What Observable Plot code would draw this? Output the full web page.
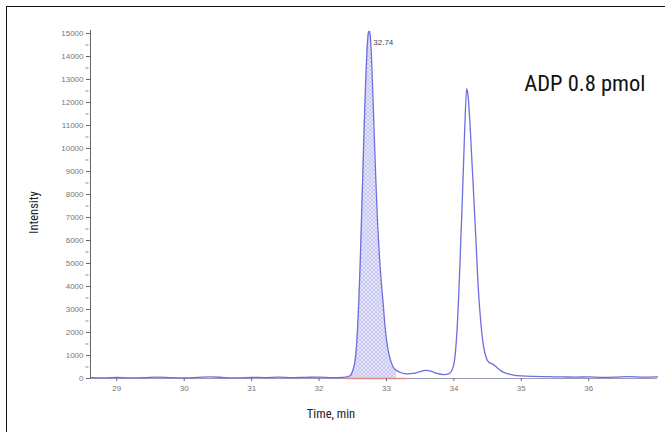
<!DOCTYPE html>
<html>
<head>
<meta charset="utf-8">
<script src="https://cdn.jsdelivr.net/npm/d3@7"></script>
<script src="https://cdn.jsdelivr.net/npm/@observablehq/plot@0.6"></script>
<style>
  html, body { margin: 0; padding: 0; background: #fff; }
  #wrap { position: relative; width: 665px; height: 432px; overflow: hidden; }
  #border { position: absolute; left: 6px; top: 6px; right: -2px; bottom: -2px; border-left: 1px solid #111; border-top: 1px solid #111; pointer-events: none; }
</style>
</head>
<body>
<div id="wrap"><div id="border"></div></div>
<script>
// Chromatogram: retention time (min) and intensity
const time = [28.61, 28.8, 29.0, 29.2, 29.4, 29.6, 29.8, 30.0, 30.2, 30.4, 30.6, 30.8, 31.0, 31.2, 31.4, 31.6, 31.8, 32.0, 32.2, 32.35, 32.43,
  32.47, 32.50, 32.53, 32.55, 32.57, 32.59, 32.61, 32.635, 32.655, 32.67, 32.69, 32.71, 32.73, 32.745, 32.76, 32.78, 32.80, 32.82, 32.84, 32.86, 32.89, 32.92, 32.95, 32.98, 33.02, 33.06, 33.10, 33.15,
  33.22, 33.3, 33.4, 33.5, 33.58, 33.66, 33.75, 33.85, 33.92, 33.97, 34.01, 34.04, 34.07, 34.10, 34.13, 34.16, 34.19, 34.21, 34.24, 34.27, 34.30, 34.33, 34.36, 34.40, 34.44, 34.48, 34.52, 34.56, 34.60, 34.65, 34.70, 34.78, 34.88,
  35.0, 35.2, 35.4, 35.6, 35.8, 36.0, 36.2, 36.4, 36.6, 36.8, 37.02];
const intensity = [40, 30, 50, 30, 40, 60, 40, 30, 50, 70, 40, 30, 50, 40, 60, 40, 50, 60, 40, 50, 80,
  150, 350, 700, 1200, 2100, 3400, 5000, 7500, 9500, 11000, 12800, 14200, 15000, 15100, 14900, 13800, 12200, 10500, 8800, 7300, 5600, 4300, 3300, 2200, 1300, 800, 500, 350,
  250, 200, 220, 300, 350, 320, 220, 170, 200, 350, 800, 1800, 3500, 5800, 8200, 10800, 12600, 12300, 11000, 9300, 7600, 5800, 4000, 2400, 1400, 900, 700, 650, 580, 450, 330, 220, 150,
  110, 90, 80, 70, 60, 70, 50, 60, 80, 60, 70];

// Integrated peak window and annotation
const peakWindow = [32.43, 33.15];
const baselineWindow = [32.40, 33.30];
const peakLabelTime = [32.745];
const peakLabelIntensity = [15100];
const peakLabelText = ["32.74"];

// Axis ticks and labels
const yTicks = d3.range(0, 15001, 1000);
const yMinorTicks = d3.range(500, 15000, 1000);
const xTicks = [29, 30, 31, 32, 33, 34, 35, 36];
const xLabel = "Time, min";
const yLabel = "Intensity";
const title = "ADP 0.8 pmol";

const data = time.map((t, i) => ({t, v: intensity[i]}));
const peakData = data.filter(d => d.t >= peakWindow[0] && d.t <= peakWindow[1]);

const condensed = "'Liberation Sans Narrow', 'Roboto Condensed', 'Arial Narrow', Roboto, sans-serif";

const chart = Plot.plot({
  width: 665,
  height: 432,
  marginLeft: 90,
  marginRight: 8,
  marginTop: 30,
  marginBottom: 54,
  x: {domain: [28.61, 37.02]},
  y: {domain: [0, 15130]},
  style: {fontFamily: "'Liberation Sans', Arial, sans-serif", background: "transparent", overflow: "visible"},
  marks: [
    Plot.areaY(peakData, {x: "t", y: "v", fill: "url(#hatch)", curve: "monotone-x"}),
    Plot.ruleY([0], {stroke: "#9a9ab0", strokeWidth: 1.2}),
    Plot.ruleY([0], {x1: baselineWindow[0], x2: baselineWindow[1], stroke: "#e08a8a", strokeWidth: 1.6}),
    Plot.lineY(data, {x: "t", y: "v", stroke: "#6e6ee0", strokeWidth: 1.3, curve: "monotone-x"}),
    Plot.ruleX([28.61], {stroke: "#666", strokeWidth: 1}),
    Plot.axisY({ticks: yTicks, tickSize: 4, tickFormat: d3.format("d"), fontSize: 8, color: "#777", stroke: "#666", label: null, tickPadding: 3}),
    Plot.tickY(yMinorTicks, {y: d => d, frameAnchor: "left", stroke: "#888", dx: -1.5, inset: 0}),
    Plot.axisX({ticks: xTicks, tickSize: 3, fontSize: 8, color: "#777", stroke: "#666", label: null, tickPadding: 4}),
    Plot.text(peakLabelText, {x: (d, i) => peakLabelTime[i], y: (d, i) => peakLabelIntensity[i], text: d => d, dx: 4, dy: 11, textAnchor: "start", fontSize: 8, fill: "#444"}),
    Plot.text([yLabel], {frameAnchor: "left", text: d => d, dx: -57, dy: 8, rotate: -90, textAnchor: "middle", fontSize: 12.5, fill: "#222", fontFamily: condensed}),
    Plot.text([xLabel], {frameAnchor: "bottom", text: d => d, dx: -43, dy: 39, fontSize: 12.5, fill: "#222", fontFamily: condensed}),
    Plot.text([title], {frameAnchor: "top-right", text: d => d, dx: -12, dy: 45, textAnchor: "end", fontSize: 22.5, fill: "#111", fontFamily: condensed})
  ]
});

// hatch pattern for the integrated peak area
const svg = d3.select(chart);
const defs = svg.insert("defs", ":first-child");
const pat = defs.append("pattern").attr("id", "hatch").attr("patternUnits", "userSpaceOnUse").attr("width", 4).attr("height", 4);
pat.append("rect").attr("width", 4).attr("height", 4).attr("fill", "#e4e4fa");
pat.append("path").attr("d", "M0,4 L4,0 M0,0 L4,4").attr("stroke", "#bcbcec").attr("stroke-width", 0.7);

// make minor ticks short
svg.selectAll("[aria-label='tick']").selectAll("line").each(function() {
  const l = d3.select(this);
  const x1 = +l.attr("x1");
  if (!isNaN(x1)) { l.attr("x1", 87).attr("x2", 90); }
});

document.getElementById("wrap").appendChild(chart);
</script>
</body>
</html>
